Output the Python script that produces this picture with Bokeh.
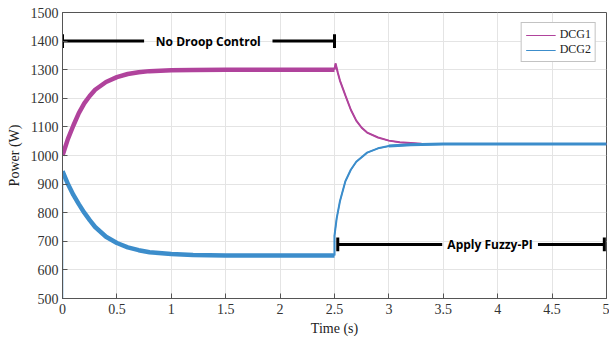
from bokeh.plotting import figure
from bokeh.models import Range1d, Legend, LegendItem, FixedTicker
from bokeh.core.properties import value
from bokeh.embed import file_html
from bokeh.resources import INLINE

# Phase 1: no droop control (0 - 2.5 s)
t1 = [0, 0, 0.05, 0.1, 0.15, 0.2, 0.25, 0.3, 0.4, 0.5, 0.6, 0.7, 0.8, 1.0, 1.2, 1.5, 2.0, 2.5]
dcg1_a = [1000, 1000, 1058, 1105, 1148, 1182, 1208, 1230, 1257, 1274, 1285, 1291, 1295, 1298, 1299, 1300, 1300, 1300]
dcg2_a = [500, 945, 900, 862, 830, 800, 774, 750, 716, 694, 679, 669, 662, 656, 652, 650, 650, 650]

# Phase 2: apply Fuzzy-PI (2.5 - 5 s)
t2_1 = [2.5, 2.51, 2.53, 2.55, 2.6, 2.65, 2.7, 2.75, 2.8, 2.9, 3.0, 3.1, 3.3, 3.5, 5.0]
dcg1_b = [1300, 1322, 1290, 1262, 1210, 1160, 1122, 1097, 1080, 1063, 1052, 1046, 1041, 1040, 1040]
t2_2 = [2.5, 2.5, 2.52, 2.55, 2.6, 2.65, 2.7, 2.8, 2.9, 3.0, 3.2, 3.5, 5.0]
dcg2_b = [650, 720, 780, 840, 910, 950, 978, 1010, 1025, 1033, 1038, 1040, 1040]

x_ticks = [0, 0.5, 1, 1.5, 2, 2.5, 3, 3.5, 4, 4.5, 5]
x_labels = ["0", "0.5", "1", "1.5", "2", "2.5", "3", "3.5", "4", "4.5", "5"]
y_ticks = [500, 600, 700, 800, 900, 1000, 1100, 1200, 1300, 1400, 1500]

series_names = ["DCG1", "DCG2"]
annot_texts = ["No Droop Control", "Apply Fuzzy-PI"]

C1 = "#B0439C"
C2 = "#3C8DCB"
SERIF = "Liberation Serif"

p = figure(width=609, height=344, x_range=Range1d(0, 5), y_range=Range1d(500, 1500),
           output_backend="svg", toolbar_location=None,
           min_border_left=62, min_border_right=3, min_border_top=12, min_border_bottom=46)
p.outline_line_color = "#555555"
p.outline_line_width = 1
p.background_fill_color = "white"
p.border_fill_color = "white"

p.xaxis.ticker = FixedTicker(ticks=x_ticks)
p.xaxis.major_label_overrides = {t: l for t, l in zip(x_ticks, x_labels)}
p.yaxis.ticker = FixedTicker(ticks=y_ticks)
for ax in (p.xaxis[0], p.yaxis[0]):
    ax.major_tick_in = 5
    ax.major_tick_out = 0
    ax.minor_tick_in = 0
    ax.minor_tick_out = 0
    ax.axis_line_color = "#555555"
    ax.major_tick_line_color = "#555555"
    ax.major_label_text_font = SERIF
    ax.major_label_text_font_size = "14px"
    ax.major_label_text_color = "#333333"
    ax.axis_label_text_font = SERIF
    ax.axis_label_text_font_size = "14px"
    ax.axis_label_text_font_style = "normal"
    ax.axis_label_text_color = "#222222"
p.xaxis.axis_label = "Time (s)"
p.yaxis.axis_label = "Power (W)"
p.xaxis.major_label_standoff = 5
p.xaxis.axis_label_standoff = 4
p.yaxis.major_label_standoff = 4
p.yaxis.axis_label_standoff = 6

p.xgrid.ticker = FixedTicker(ticks=x_ticks)
p.ygrid.ticker = FixedTicker(ticks=y_ticks)
p.grid.grid_line_color = "#e4e4e4"
p.grid.grid_line_width = 1

# Thin lines (also used as legend glyphs), hidden under thicker strokes
l1 = p.line(t2_1, dcg1_b, line_color=C1, line_width=1.2)
l2 = p.line(t2_2, dcg2_b, line_color=C2, line_width=1.2)

# Curves
p.line(t1[:2], dcg2_a[:2], line_color=C2, line_width=1.5)
p.line(t1[1:], dcg2_a[1:], line_color=C2, line_width=4.5)
p.line(t1, dcg1_a, line_color=C1, line_width=4.5)
p.line(t2_1, dcg1_b, line_color=C1, line_width=2)
p.line(t2_2, dcg2_b, line_color=C2, line_width=2)
p.line(t2_2[-4:], dcg2_b[-4:], line_color=C2, line_width=3)

# Annotations
AW = 3
p.segment(x0=[0, 1.93, 0, 2.5], y0=[1400, 1400, 1376, 1376],
          x1=[0.75, 2.5, 0, 2.5], y1=[1400, 1400, 1424, 1424],
          line_color="black", line_width=AW)
p.text(x=[1.34], y=[1400], text=[annot_texts[0]], text_font=value("Open Sans"),
       text_font_style="bold", text_font_size="12px", text_align="center",
       text_baseline="middle", text_color="black")

p.segment(x0=[2.53, 4.37, 2.53, 4.98], y0=[689, 689, 665, 665],
          x1=[3.49, 4.98, 2.53, 4.98], y1=[689, 689, 713, 713],
          line_color="black", line_width=AW)
p.text(x=[3.93], y=[689], text=[annot_texts[1]], text_font=value("Open Sans"),
       text_font_style="bold", text_font_size="12px", text_align="center",
       text_baseline="middle", text_color="black")

legend = Legend(items=[LegendItem(label=series_names[0], renderers=[l1]),
                       LegendItem(label=series_names[1], renderers=[l2])],
                location="top_right")
legend.margin = 10
legend.padding = 4
legend.spacing = 0
legend.glyph_width = 30
legend.glyph_height = 14
legend.label_height = 14
legend.label_standoff = 4
legend.label_text_font = SERIF
legend.label_text_font_size = "12px"
legend.label_text_color = "#222222"
legend.border_line_color = "#888888"
legend.border_line_width = 1
legend.background_fill_alpha = 1
p.add_layout(legend)

html = file_html(p, INLINE)
open("out.html", "w").write(html)
